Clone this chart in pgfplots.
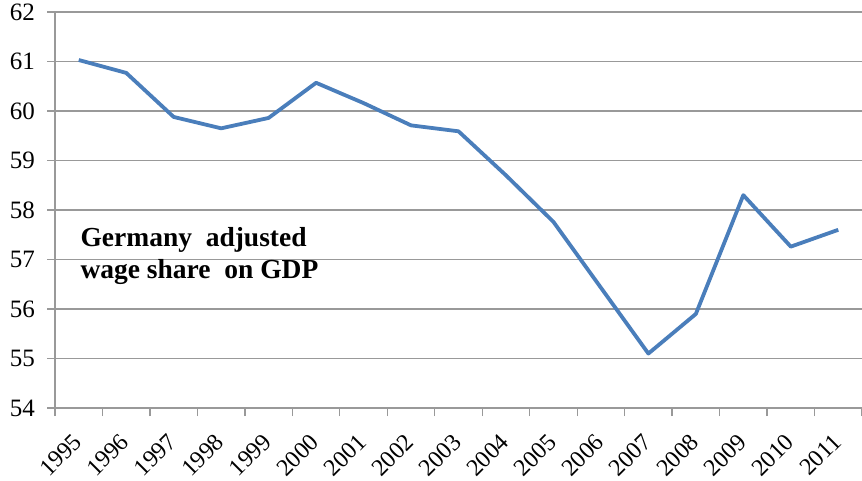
\documentclass[border=0pt]{standalone}
\usepackage{fontspec}
\setmainfont{Liberation Serif}
\usepackage{pgfplots}
\pgfplotsset{compat=1.18}
\definecolor{lineblue}{HTML}{4A7EBB}
\definecolor{gridgray}{HTML}{999999}
\begin{document}
\begin{tikzpicture}
\begin{axis}[
  at={(55pt,-408pt)}, anchor=south west,
  scale only axis, width=807pt, height=396pt,
  xmin=-0.5, xmax=16.5, ymin=54, ymax=62,
  ytick={54,55,...,62},
  xtick={0,1,...,16},
  xticklabels={1995,1996,1997,1998,1999,2000,2001,2002,2003,2004,2005,2006,2007,2008,2009,2010,2011},
  minor xtick={-0.5,0.5,...,16.5},
  axis lines*=left,
  ymajorgrids,
  major grid style={gridgray, line width=1.3pt},
  axis line style={gridgray, line width=1.3pt},
  tick style={gridgray, line width=1.3pt},
  every major x tick/.append style={draw=none},
  tick align=outside,
  major tick length=8pt, minor tick length=8pt,
  /pgf/number format/assume math mode=true,
  tick label style={text=black},
  y tick label style={font=\fontsize{25}{25}\selectfont, inner sep=0pt, xshift=-12pt},
  x tick label style={font=\fontsize{24}{24}\selectfont, inner sep=0pt, xshift=-7pt, yshift=-16pt, rotate=45, anchor=north east},
  clip=false,
]
\addplot[lineblue, line width=3.8pt, line join=round] coordinates {
  (0,61.03) (1,60.77) (2,59.88) (3,59.65) (4,59.86) (5,60.57)
  (6,60.16) (7,59.71) (8,59.59) (9,58.70) (10,57.76) (11,56.43)
  (12,55.10) (13,55.90) (14,58.30) (15,57.26) (16,57.60)
};
\end{axis}
\node[anchor=base west, font=\bfseries\fontsize{27.5}{31}\selectfont, align=left] at (77pt,-247pt) {Germany\ \ adjusted};
\node[anchor=base west, font=\bfseries\fontsize{27.5}{31}\selectfont, align=left] at (77pt,-278pt) {wage share\ \ on GDP};
\pgfresetboundingbox
\path (0,0) rectangle (862pt,-481pt);
\end{tikzpicture}
\end{document}
